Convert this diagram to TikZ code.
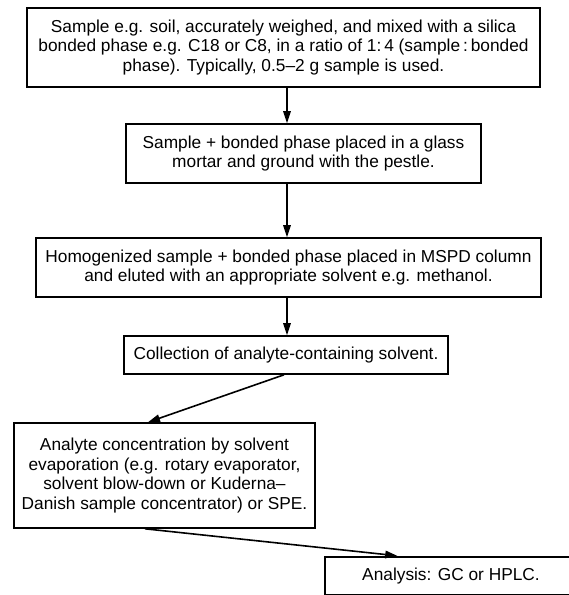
\documentclass[tikz,border=0pt]{standalone}
\usepackage{fontspec}
\setmainfont{Liberation Sans}
\usetikzlibrary{arrows.meta}

\tikzset{
  stepbox/.style={draw, line width=1.6pt, rectangle, inner sep=0pt,
    align=center, font=\fontsize{17.3pt}{19.5pt}\selectfont},
  flow/.style={line width=1.6pt, -{Triangle[length=12pt,width=7.5pt]}}
}

\begin{document}
\begin{tikzpicture}[x=1pt, y=-1pt]
  % page frame (clips the last box at the right and bottom edge)
  \clip (0,0) rectangle (569,595);
  \fill[white] (0,0) rectangle (569,595);

  \node[stepbox, minimum width=513pt, minimum height=79pt] (b1) at (283.5,47.5)
    {Sample e.g. soil, accurately weighed, and mixed with a silica\\
     bonded phase e.g. C18 or C8, in a ratio of 1:\,4 (sample\,:\,bonded\\
     phase). Typically, 0.5–2 g sample is used.};

  \node[stepbox, minimum width=355pt, minimum height=59pt] (b2) at (303.5,153.5)
    {Sample + bonded phase placed in a glass\\
     mortar and ground with the pestle.};

  \node[stepbox, minimum width=505pt, minimum height=59pt] (b3) at (288.5,267.5)
    {Homogenized sample + bonded phase placed in MSPD column\\
     and eluted with an appropriate solvent e.g. methanol.};

  \node[stepbox, minimum width=324pt, minimum height=38pt] (b4) at (286,355)
    {Collection of analyte-containing solvent.};

  \node[stepbox, minimum width=301pt, minimum height=105pt] (b5) at (164.5,475.5)
    {Analyte concentration by solvent\\
     evaporation (e.g. rotary evaporator,\\
     solvent blow-down or Kuderna–\\
     Danish sample concentrator) or SPE.};

  \node[stepbox, minimum width=252pt, minimum height=38pt] (b6) at (451,576)
    {Analysis: GC or HPLC.};

  % connectors
  \draw[flow] ([xshift=3.5pt]b1.south) -- ([xshift=-16.5pt]b2.north);
  \draw[flow] ([xshift=-16.5pt]b2.south) -- ([xshift=-1.5pt]b3.north);
  \draw[flow] ([xshift=-1.5pt]b3.south) -- ([xshift=1pt]b4.north);
  \draw[flow] ([xshift=-2pt]b4.south) -- ([xshift=-16.5pt]b5.north);
  \draw[flow, shorten >=4pt] ([xshift=-19.5pt]b5.south) -- ([xshift=77pt]b6.north west);
\end{tikzpicture}
\end{document}
